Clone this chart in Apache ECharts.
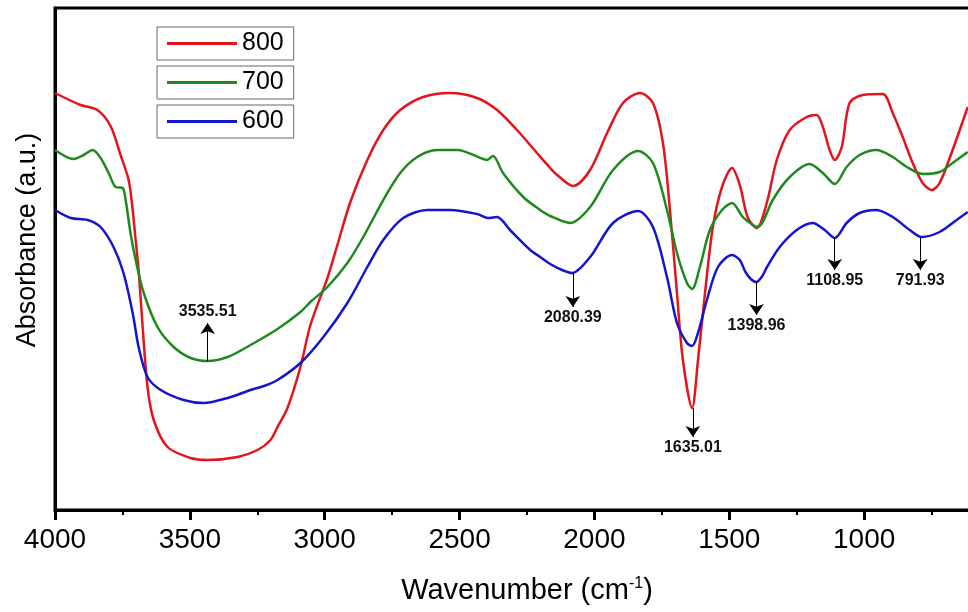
<!DOCTYPE html>
<html>
<head>
<meta charset="utf-8">
<title>FTIR spectra</title>
<script src="https://cdn.jsdelivr.net/npm/echarts@6/dist/echarts.min.js"></script>
<style>
  html, body { margin: 0; padding: 0; background: #fff; overflow: hidden; }
  /* the plot runs on past the right edge of the window, as in the cropped original */
  #main { width: 999px; height: 612px; }
</style>
</head>
<body>
<div id="main"></div>
<script>
// wavenumber (cm-1) / absorbance (a.u.)
var wn800 = [4000,3905,3843,3794,3757,3727,3712,3701,3690,3675,3657,3634,3583,3497,3434,3323,3249,3201,3175,3138,3090,3053,2990,2953,2905,2842,2783,2720,2635,2535,2435,2361,2287,2213,2164,2138,2079,2016,1953,1894,1831,1783,1746,1720,1694,1672,1638,1616,1590,1561,1527,1490,1461,1431,1398,1361,1324,1276,1213,1176,1153,1128,1109,1083,1054,1005,931,894,857,820,783,749,720,672,616];
var ab800 = [417,405,400,384,355,330,300,270,240,183,123,90,63,52,50,53,60,70,83,102,143,185,232,265,308,350,380,400,413,417,412,400,380,357,342,335,324,340,377,407,417,407,367,300,217,150,102,150,217,283,323,342,325,292,282,307,350,380,393,395,383,360,350,363,407,415,416,397,373,347,327,320,327,360,403];

var wn700 = [4000,3931,3894,3860,3831,3801,3775,3749,3738,3720,3701,3671,3620,3560,3497,3434,3360,3275,3175,3090,3053,2990,2916,2857,2783,2720,2657,2583,2509,2413,2398,2376,2339,2264,2201,2164,2090,2016,1931,1838,1783,1731,1694,1657,1638,1609,1572,1527,1490,1450,1413,1398,1376,1339,1276,1202,1153,1109,1065,1017,954,894,842,783,720,672,616];
var ab700 = [360,351,355,360,352,337,323,322,310,277,250,217,183,163,152,149,153,165,181,198,208,223,247,273,310,337,353,360,360,351,350,354,337,313,300,294,287,303,340,359,347,300,257,227,221,243,280,300,307,293,285,283,288,310,333,346,337,326,343,355,360,353,343,336,338,347,358];

var wn600 = [4000,3942,3879,3831,3783,3746,3712,3690,3657,3608,3523,3449,3360,3275,3225,3175,3090,3005,2916,2842,2783,2709,2620,2535,2435,2394,2361,2313,2238,2201,2164,2120,2083,2016,1931,1838,1783,1731,1694,1657,1638,1616,1583,1542,1490,1461,1440,1420,1400,1380,1360,1313,1250,1191,1146,1109,1065,1017,954,894,831,787,720,657,616];
var ab600 = [300,292,290,283,263,237,197,163,133,120,110,107,112,120,124,130,147,173,207,243,270,292,300,300,296,292,293,280,260,253,246,240,237,253,287,299,283,233,187,167,164,177,210,243,255,250,238,231,228,233,243,263,280,287,280,272,287,297,300,293,280,273,278,290,298];

// peak labels
var annWave = [3434, 2080, 1635, 1399, 1109, 792];
var annText = ['3535.51', '2080.39', '1635.01', '1398.96', '1108.95', '791.93'];
var annFrom = [149, 237, 102, 228, 272, 273];
var annTo   = [187, 203, 73, 195, 240, 240];

var seriesNames = ['800', '700', '600'];
var colors = ['#e3141c', '#1e8a1e', '#1515d0'];

function zip(a, b) {
  var out = [];
  for (var i = 0; i < a.length; i++) out.push([a[i], b[i]]);
  return out;
}

var marks = [];
for (var i = 0; i < annWave.length; i++) {
  marks.push([
    { name: annText[i], coord: [annWave[i], annFrom[i]] },
    { coord: [annWave[i], annTo[i]] }
  ]);
}

var font = 'Liberation Sans, Arial, sans-serif';

var legends = [];
for (var k = 0; k < seriesNames.length; k++) {
  legends.push({
    data: [seriesNames[k]],
    left: 157,
    top: 27 + k * 39,
    icon: 'rect',
    itemWidth: 70,
    itemHeight: 3,
    padding: [4, 10, 4, 10],
    borderColor: '#666',
    borderWidth: 1,
    selectedMode: false,
    textStyle: { fontSize: 25, color: '#000', fontFamily: font }
  });
}

var chart = echarts.init(document.getElementById('main'));
chart.setOption({
  animation: false,
  backgroundColor: '#fff',
  color: colors,
  legend: legends,
  grid: {
    left: 55, top: 8, bottom: 102, right: 0,
    outerBoundsMode: 'none',
    containLabel: false,
    show: true, borderColor: '#000', borderWidth: 3
  },
  xAxis: {
    type: 'value',
    inverse: true,
    min: 500, max: 4000, interval: 500,
    name: 'Wavenumber (cm{sup|-1})',
    nameLocation: 'middle',
    nameGap: 66,
    nameTextStyle: {
      fontSize: 29, color: '#000', fontFamily: font,
      rich: { sup: { fontSize: 16, color: '#000', fontFamily: font, padding: [0, 0, 14, 0] } }
    },
    axisLine: { show: true, lineStyle: { color: '#000', width: 3 } },
    axisTick: { show: true, length: 10, lineStyle: { color: '#000', width: 3 } },
    minorTick: { show: true, splitNumber: 2, length: 5, lineStyle: { color: '#000', width: 2 } },
    axisLabel: {
      fontSize: 28, color: '#000', margin: 16, fontFamily: font,
      formatter: function (v) { return String(v); }
    },
    splitLine: { show: false }
  },
  yAxis: {
    type: 'value',
    min: 0, max: 502,
    name: 'Absorbance (a.u.)',
    nameLocation: 'middle',
    nameGap: 14,
    nameTextStyle: { fontSize: 27, color: '#000', fontFamily: font, padding: [0, 0, 0, 38] },
    axisLine: { show: true, lineStyle: { color: '#000', width: 3 } },
    axisTick: { show: false },
    axisLabel: { show: false },
    splitLine: { show: false }
  },
  series: [
    {
      name: '800', type: 'line', smooth: 0.3, symbol: 'none',
      lineStyle: { width: 2.5, color: colors[0] },
      data: zip(wn800, ab800)
    },
    {
      name: '700', type: 'line', smooth: 0.3, symbol: 'none',
      lineStyle: { width: 2.5, color: colors[1] },
      data: zip(wn700, ab700)
    },
    {
      name: '600', type: 'line', smooth: 0.3, symbol: 'none',
      lineStyle: { width: 2.5, color: colors[2] },
      data: zip(wn600, ab600),
      markLine: {
        silent: true,
        animation: false,
        symbol: ['none', 'arrow'],
        symbolSize: 11,
        lineStyle: { color: '#000', width: 1, type: 'solid' },
        label: {
          show: true,
          position: 'end',
          distance: 3,
          formatter: function (p) { return p.name; },
          fontSize: 16,
          fontWeight: 'bold',
          color: '#111',
          fontFamily: font
        },
        emphasis: { disabled: true },
        data: marks
      }
    }
  ]
});
</script>
</body>
</html>
